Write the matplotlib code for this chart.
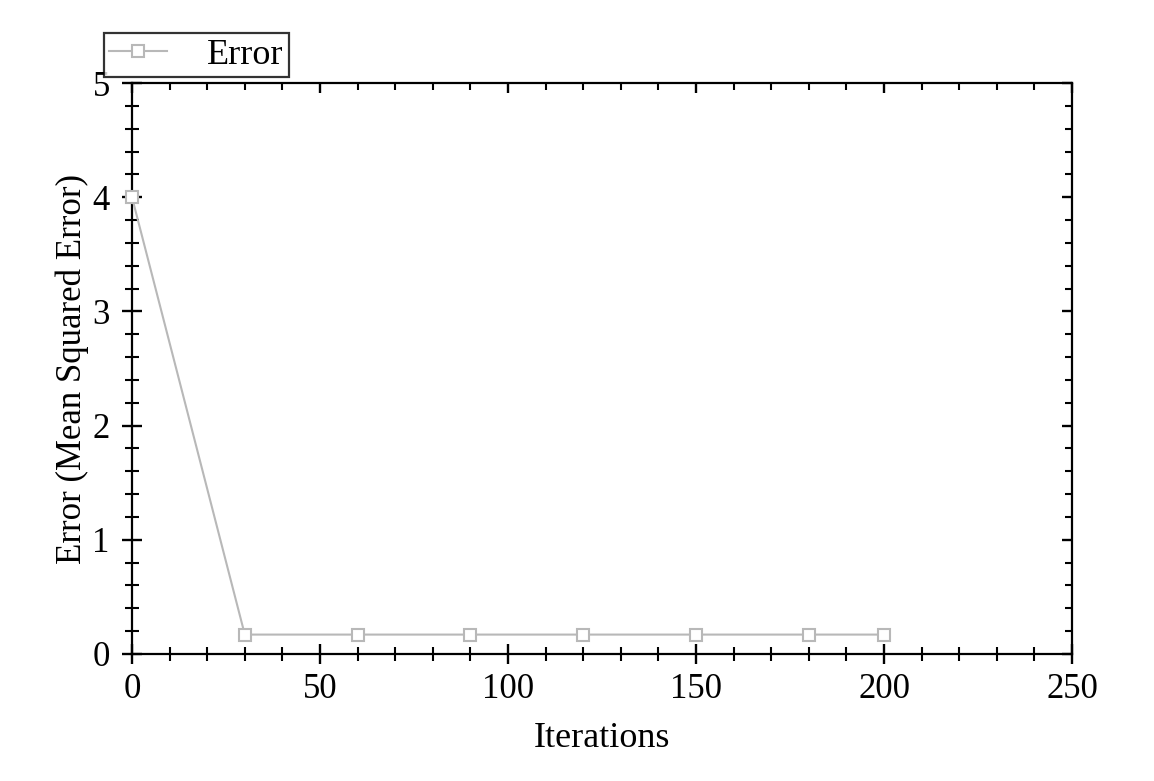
import matplotlib
matplotlib.use("Agg")
import matplotlib.pyplot as plt
from matplotlib.ticker import MultipleLocator

plt.rcParams["font.family"] = ["Liberation Serif", "DejaVu Serif"]

iterations = [0, 30, 60, 90, 120, 150, 180, 200]
mse = [4.0, 0.17, 0.17, 0.17, 0.17, 0.17, 0.17, 0.17]

fig = plt.figure(figsize=(11.54, 7.81), dpi=100)
ax = fig.add_axes([132 / 1154, 1 - 654 / 781, (1072 - 132) / 1154, (654 - 83) / 781])

ax.plot(iterations, mse, color="#b8b8b8", lw=1.5, marker="s", markersize=8.5,
        markerfacecolor="white", markeredgecolor="#b8b8b8", markeredgewidth=1.5,
        label="Error", clip_on=False, zorder=3)

ax.set_xlim(0, 250)
ax.set_ylim(0, 5)
ax.xaxis.set_major_locator(MultipleLocator(50))
ax.xaxis.set_minor_locator(MultipleLocator(10))
ax.yaxis.set_major_locator(MultipleLocator(1))
ax.yaxis.set_minor_locator(MultipleLocator(0.2))

for s in ax.spines.values():
    s.set_linewidth(1.6)

ax.tick_params(axis="both", which="major", direction="inout", length=14, width=1.7,
               labelsize=25, top=True, right=True)
ax.tick_params(axis="both", which="minor", direction="inout", length=9.5, width=1.5,
               top=True, right=True)
ax.tick_params(axis="x", which="major", pad=7)
ax.tick_params(axis="y", which="major", pad=9)
# top and right ticks point inward only, half length
for t in ax.xaxis.get_major_ticks() + ax.xaxis.get_minor_ticks():
    t.tick2line.set_marker(3)
    t.tick2line.set_markersize(t.tick2line.get_markersize() / 2)
for t in ax.yaxis.get_major_ticks() + ax.yaxis.get_minor_ticks():
    t.tick2line.set_marker(0)
    t.tick2line.set_markersize(t.tick2line.get_markersize() / 2)

ax.set_xlabel("Iterations", fontsize=26, labelpad=11)
ax.set_ylabel("Error (Mean Squared Error)", fontsize=25)
ax.yaxis.set_label_coords(-0.046, 0.5)

leg = ax.legend(loc="upper left", bbox_to_anchor=(104 / 1154, 1 - 33 / 781),
                bbox_transform=fig.transFigure, fontsize=26, frameon=True,
                fancybox=False, edgecolor="black", borderpad=0.15,
                handlelength=1.6, handletextpad=1.1, borderaxespad=0.0)
leg.get_frame().set_linewidth(1.6)

fig.savefig("out.png", dpi=100)
